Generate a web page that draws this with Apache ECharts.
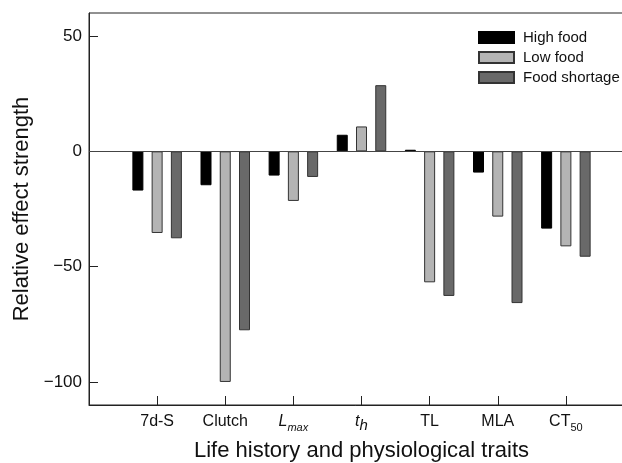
<!DOCTYPE html>
<html>
<head>
<meta charset="utf-8">
<script src="https://cdn.jsdelivr.net/npm/echarts@6/dist/echarts.min.js"></script>
<style>
	html, body { margin: 0; padding: 0; background: #fff; }
	#cn { width: 622px; height: 463px; }
</style>
</head>
<body>
<div id="cn"></div>
<script>
'use strict';

// traits on x axis (rich text keys for italic / subscript)
const TRAITS = ['7d-S', 'Clutch', '{it|L}{subi|max}', '{it|t}{subh|h}', 'TL', 'MLA', '{n|CT}{sub|50}'];

const HIGH_FOOD = [-17, -14.7, -10.5, 7.2, 0.7, -9.2, -33.5];
const LOW_FOOD = [-35.4, -100, -21.5, 10.8, -56.8, -28.3, -41.2];
const FOOD_SHORTAGE = [-37.7, -77.6, -11.1, 28.7, -62.7, -65.8, -45.7];

const Y_TICKS = [-100, -50, 0, 50];

// one empty slot each side so the traits sit on ticks like the original
const pad = arr => [null, ...arr, null];
const categories = pad(TRAITS).map(v => v === null ? '' : v);

const FONT = '"Liberation Sans", Arial, sans-serif';

const barSeries = (name, data, color, border) => ({
	name: name,
	type: 'bar',
	data: pad(data),
	barWidth: 11,
	barGap: '75%',
	itemStyle: {
		color: color,
		borderColor: border,
		borderWidth: 1
	}
});

const series = [
	barSeries('High food', HIGH_FOOD, '#000000', '#000000'),
	barSeries('Low food', LOW_FOOD, '#b4b4b4', '#333333'),
	barSeries('Food shortage', FOOD_SHORTAGE, '#696969', '#333333')
];

// zero line
series[0].markLine = {
	silent: true,
	symbol: 'none',
	label: { show: false },
	lineStyle: { color: '#444', width: 1, type: 'solid' },
	data: [{ yAxis: 0 }]
};

const chart = echarts.init(document.getElementById('cn'));

chart.setOption({
	animation: false,
	textStyle: { fontFamily: FONT },
	grid: {
		left: 89,
		top: 13,
		width: 545, // right side runs past the picture edge, as in the original
		bottom: 58,
		containLabel: false,
		outerBoundsMode: 'none',
		show: true,
		borderColor: '#222',
		borderWidth: 1
	},
	legend: {
		orient: 'vertical',
		left: 478,
		top: 30,
		padding: 0,
		icon: 'rect',
		itemWidth: 35,
		itemHeight: 11,
		itemGap: 5,
		textStyle: { fontSize: 15, color: '#111', padding: [0, 0, 0, 4] },
		data: ['High food', 'Low food', 'Food shortage']
	},
	xAxis: {
		type: 'category',
		data: categories,
		boundaryGap: false,
		name: 'Life history and physiological traits',
		nameLocation: 'middle',
		nameGap: 35,
		nameTextStyle: { fontSize: 22, color: '#111' },
		axisLine: { onZero: false, lineStyle: { color: '#222' } },
		axisTick: {
			inside: true,
			length: 9,
			lineStyle: { color: '#222' },
			interval: (i, v) => v !== ''
		},
		axisLabel: {
			interval: 0,
			fontSize: 16,
			color: '#111',
			margin: 9,
			verticalAlign: 'top',
			rich: {
				n: { fontSize: 16, verticalAlign: 'top' },
				it: { fontSize: 16, fontStyle: 'italic', verticalAlign: 'top' },
				sub: { fontSize: 11, verticalAlign: 'top', padding: [8, 0, 0, 0] },
				subi: { fontSize: 11, fontStyle: 'italic', verticalAlign: 'top', padding: [8, 0, 0, 0] },
				subh: { fontSize: 15, fontStyle: 'italic', verticalAlign: 'top', padding: [4, 0, 0, 0] }
			}
		},
		splitLine: { show: false }
	},
	yAxis: {
		type: 'value',
		min: -110,
		max: 60,
		name: 'Relative effect strength',
		nameLocation: 'middle',
		nameGap: 46,
		nameTextStyle: { fontSize: 22, color: '#111' },
		axisLine: { show: true, lineStyle: { color: '#222' } },
		axisTick: {
			show: true,
			inside: true,
			length: 9,
			lineStyle: { color: '#222' },
			customValues: Y_TICKS
		},
		axisLabel: {
			fontSize: 17,
			color: '#111',
			margin: 7,
			customValues: Y_TICKS,
			formatter: v => v < 0 ? '\u2212' + Math.abs(v) : String(v)
		},
		splitLine: { show: false }
	},
	series: series
});
</script>
</body>
</html>
